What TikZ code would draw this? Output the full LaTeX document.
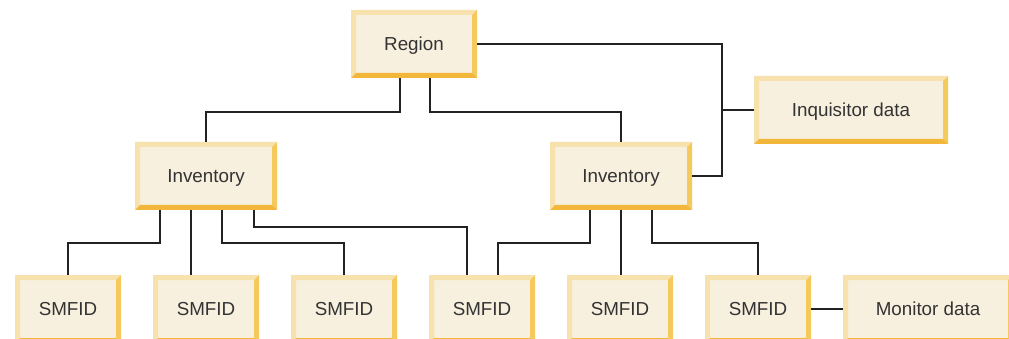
\documentclass[tikz,border=0pt]{standalone}
\usepackage{fontspec}
\setmainfont{Liberation Sans}
\definecolor{boxfill}{HTML}{F8F0DF}
\definecolor{bvtop}{HTML}{F7E1AC}
\definecolor{bvright}{HTML}{F6C95C}
\definecolor{bvbot}{HTML}{F2B73A}
\definecolor{txt}{HTML}{333333}
\definecolor{ln}{HTML}{222222}
\tikzset{
  box/.style={rectangle, fill=boxfill, minimum height=68pt, inner sep=0pt, outer sep=0pt,
    text=txt, font=\fontsize{18.8}{22}\selectfont, text height=13.5pt, text depth=0pt,
    path picture={
      \fill[bvtop] (path picture bounding box.north west) -- (path picture bounding box.north east)
        -- ([shift={(-5pt,-5pt)}]path picture bounding box.north east)
        -- ([shift={(5pt,-5pt)}]path picture bounding box.north west) -- cycle;
      \fill[bvtop] (path picture bounding box.north west) -- (path picture bounding box.south west)
        -- ([shift={(5pt,5pt)}]path picture bounding box.south west)
        -- ([shift={(5pt,-5pt)}]path picture bounding box.north west) -- cycle;
      \fill[bvright] (path picture bounding box.north east) -- (path picture bounding box.south east)
        -- ([shift={(-5pt,5pt)}]path picture bounding box.south east)
        -- ([shift={(-5pt,-5pt)}]path picture bounding box.north east) -- cycle;
      \fill[bvbot] (path picture bounding box.south west) -- (path picture bounding box.south east)
        -- ([shift={(-5pt,5pt)}]path picture bounding box.south east)
        -- ([shift={(5pt,5pt)}]path picture bounding box.south west) -- cycle;
    }},
  conn/.style={draw=ln, line width=1.4pt}
}
\begin{document}
\begin{tikzpicture}[x=1pt,y=-1pt]
\useasboundingbox (0,0) rectangle (1009,339);
\clip (0,0) rectangle (1009,339);
\node[box, minimum width=126pt] (reg) at (414,44) {Region};
\node[box, minimum width=142pt] (invL) at (206,176) {Inventory};
\node[box, minimum width=142pt] (invR) at (621,176) {Inventory};
\node[box, minimum width=194pt] (inq) at (851,110) {Inquisitor data};
\node[box, minimum width=106pt] (s1) at (68,309) {SMFID};
\node[box, minimum width=106pt] (s2) at (206,309) {SMFID};
\node[box, minimum width=106pt] (s3) at (344,309) {SMFID};
\node[box, minimum width=106pt] (s4) at (482,309) {SMFID};
\node[box, minimum width=106pt] (s5) at (620,309) {SMFID};
\node[box, minimum width=106pt] (s6) at (758,309) {SMFID};
\node[box, minimum width=170pt] (mon) at (928,309) {Monitor data};
\coordinate (jr) at (722,110);
% Region connections
\draw[conn] (reg.east) -| (jr) |- (invR.east);
\draw[conn] (jr) -- (inq.west);
\draw[conn] ([xshift=-14pt]reg.south) -- ++(0,-34pt) -| (invL.north);
\draw[conn] ([xshift=16pt]reg.south) -- ++(0,-34pt) -| (invR.north);
% Left inventory
\draw[conn] ([xshift=-46pt]invL.south) -- ++(0,-33pt) -| (s1.north);
\draw[conn] ([xshift=-15pt]invL.south) -- ([xshift=-15pt]s2.north);
\draw[conn] ([xshift=16pt]invL.south) -- ++(0,-33pt) -| (s3.north);
\draw[conn] ([xshift=48pt]invL.south) -- ++(0,-17pt) -| ([xshift=-15pt]s4.north);
% Right inventory
\draw[conn] ([xshift=-31pt]invR.south) -- ++(0,-33pt) -| ([xshift=16pt]s4.north);
\draw[conn] (invR.south) -- (invR.south |- s5.north);
\draw[conn] ([xshift=31pt]invR.south) -- ++(0,-33pt) -| (s6.north);
\draw[conn] (s6.east) -- (mon.west);
\end{tikzpicture}
\end{document}
